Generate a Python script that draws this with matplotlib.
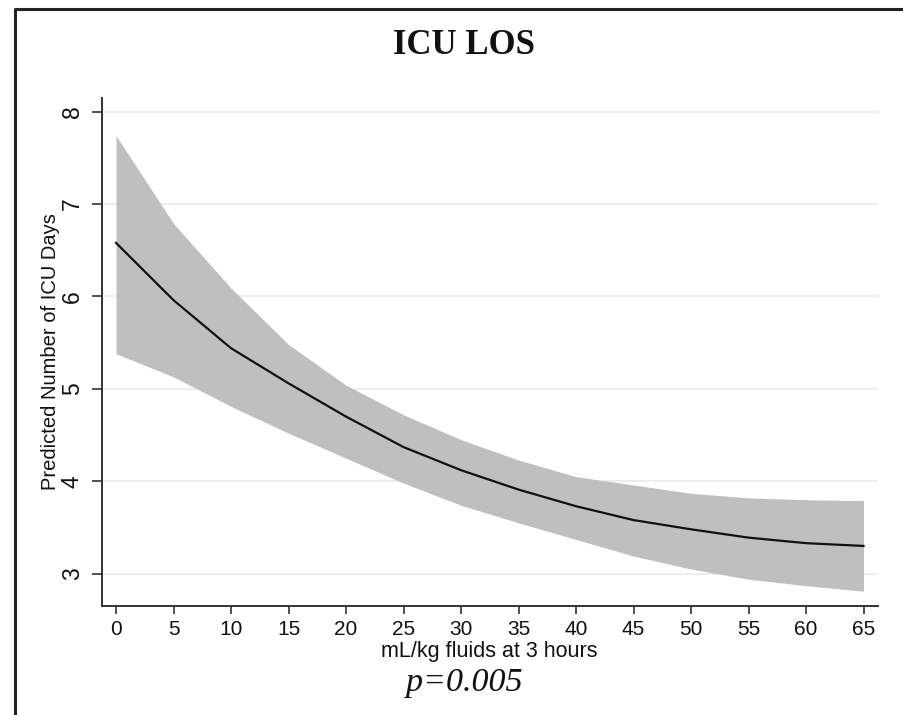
import matplotlib
matplotlib.use('Agg')
import matplotlib.pyplot as plt
from matplotlib.lines import Line2D

# values (predicted ICU days with 95% band)
fluids = [0, 5, 10, 15, 20, 25, 30, 35, 40, 45, 50, 55, 60, 65]
predicted = [6.58, 5.96, 5.44, 5.06, 4.70, 4.37, 4.12, 3.91, 3.73, 3.58, 3.48, 3.39, 3.33, 3.30]
upper_ci = [7.74, 6.79, 6.09, 5.48, 5.04, 4.72, 4.45, 4.23, 4.05, 3.96, 3.87, 3.82, 3.80, 3.79]
lower_ci = [5.38, 5.13, 4.81, 4.52, 4.25, 3.98, 3.74, 3.55, 3.37, 3.19, 3.05, 2.94, 2.87, 2.81]
x_ticks = list(range(0, 70, 5))
y_ticks = [3, 4, 5, 6, 7, 8]

W, H = 904, 715
fig = plt.figure(figsize=(W / 100, H / 100), dpi=100)
ax = fig.add_axes([102 / W, 1 - 606 / H, (878 - 102) / W, (606 - 98) / H])

ax.fill_between(fluids, lower_ci, upper_ci, color='#bfbfbf', linewidth=0, zorder=2)
ax.plot(fluids, predicted, color='#111111', linewidth=1.6, zorder=3)

ax.set_xlim(-1.22, 66.26)
ax.set_ylim(2.65, 8.148)
ax.set_xticks(x_ticks)
ax.set_yticks(y_ticks)

for v in y_ticks:
    ax.axhline(v, color='#ececec', linewidth=1.3, zorder=1)

for side in ['top', 'right']:
    ax.spines[side].set_visible(False)
for side in ['left', 'bottom']:
    ax.spines[side].set_color('#333333')
    ax.spines[side].set_linewidth(1.4)

ax.tick_params(axis='x', length=6, width=1.2, color='#333333', pad=4,
               labelsize=15, labelcolor='#111111')
ax.tick_params(axis='y', length=7, width=1.2, color='#333333', pad=6,
               labelsize=16.5, labelcolor='#111111', labelrotation=90)
for lab in ax.get_xticklabels() + ax.get_yticklabels():
    lab.set_family('Liberation Sans')
for lab in ax.get_yticklabels():
    lab.set_verticalalignment('center')

fig.text(51 / W, 1 - 352 / H, 'Predicted Number of ICU Days', rotation=90,
         ha='center', va='center', fontsize=14.5, family='Liberation Sans',
         color='#111111')
fig.text(489 / W, 1 - 657 / H, 'mL/kg fluids at 3 hours', ha='center',
         va='baseline', fontsize=15.5, family='Liberation Sans', color='#111111')
fig.text(464 / W, 1 - 54 / H, 'ICU LOS', ha='center', va='baseline',
         fontsize=25, fontweight='bold', family='Liberation Serif', color='#111111')
fig.text(464 / W, 1 - 691 / H, 'p=0.005', ha='center', va='baseline',
         fontsize=24.5, fontstyle='italic', family='Liberation Serif', color='#111111')

# outer frame (only top and left edges are visible in the crop)
fig.add_artist(Line2D([15 / W, 15 / W, 1], [0, 1 - 9 / H, 1 - 9 / H],
                      transform=fig.transFigure, color='#222222', linewidth=2.2))

fig.savefig('out.png', dpi=100)
